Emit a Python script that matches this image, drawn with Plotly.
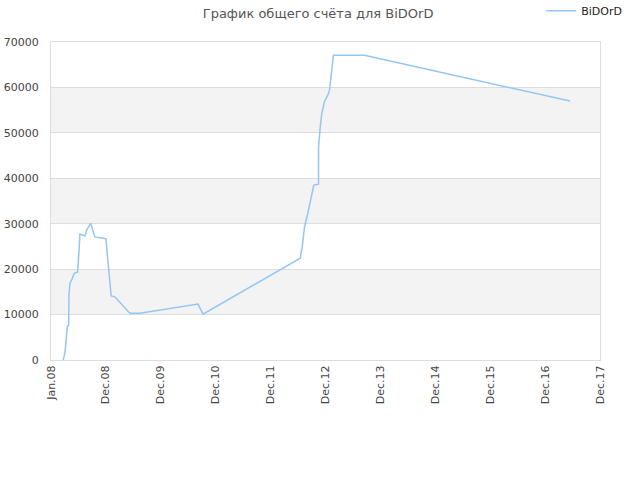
import plotly.graph_objects as go

# x is measured in tick steps: 0 = Jan.08, 1 = Dec.08, 2 = Dec.09, ...
tick_labels = ["Jan.08", "Dec.08", "Dec.09", "Dec.10", "Dec.11", "Dec.12",
               "Dec.13", "Dec.14", "Dec.15", "Dec.16", "Dec.17"]

step = [0.224, 0.255, 0.273, 0.296, 0.322, 0.327, 0.345, 0.376, 0.424, 0.485,
        0.509, 0.527, 0.618, 0.649, 0.722, 0.800, 1.000, 1.042, 1.096, 1.164,
        1.436, 1.618, 2.678, 2.769, 4.540, 4.576, 4.618, 4.678, 4.740, 4.787,
        4.873, 4.874, 4.904, 4.933, 4.982, 5.042, 5.073, 5.145, 5.709, 9.455]
score = [0, 1800, 4000, 7300, 7700, 14300, 16900, 17600, 19100, 19400,
         23800, 27700, 27300, 28600, 30100, 27100, 26700, 21300, 14100, 13900,
         10300, 10300, 12300, 10100, 22400, 24900, 29300, 32300, 35900, 38500,
         38700, 46900, 51300, 54300, 56900, 58300, 59400, 67100, 67100, 57000]

y_ticks = [0, 10000, 20000, 30000, 40000, 50000, 60000, 70000]
bands = [(10000, 20000), (30000, 40000), (50000, 60000)]

fig = go.Figure()
fig.add_trace(
    go.Scatter(
        x=step,
        y=score,
        mode="lines",
        name="BiDOrD",
        line=dict(color="#94c6f4", width=1.5),
    )
)

shapes = []
for lo, hi in bands:
    shapes.append(dict(type="rect", xref="paper", yref="y", x0=0, x1=1, y0=lo, y1=hi,
                       fillcolor="#f3f3f3", line_width=0, layer="below"))

fig.update_layout(
    title=dict(text="График общего счёта для BiDOrD", x=0.497, y=1 - 13 / 480,
               xanchor="center", yanchor="middle",
               font=dict(size=13, color="#555555")),
    width=640,
    height=480,
    margin=dict(t=42, b=120, l=51, r=40, autoexpand=False),
    plot_bgcolor="white",
    paper_bgcolor="white",
    font=dict(family="DejaVu Sans", size=11, color="#444444"),
    shapes=shapes,
    showlegend=True,
    legend=dict(x=0.893, y=1.098, xanchor="left", yanchor="middle",
                bgcolor="rgba(0,0,0,0)", itemwidth=30,
                font=dict(size=11, color="#222222")),
    xaxis=dict(
        range=[0, 10],
        tickvals=list(range(len(tick_labels))),
        ticktext=tick_labels,
        tickangle=-90,
        showgrid=False,
        zeroline=False,
        showline=True,
        linecolor="#dddddd",
        mirror=True,
        ticks="",
        automargin=False,
    ),
    yaxis=dict(
        range=[0, 70000],
        tickvals=y_ticks,
        tickformat="d",
        gridcolor="#dddddd",
        zeroline=False,
        showline=True,
        linecolor="#dddddd",
        mirror=True,
        ticks="",
        ticklabelstandoff=9,
        automargin=False,
    ),
)

# drop the browser's default body margin so the figure sits at the page corner
fig.write_html(
    "out.html",
    config={"displayModeBar": False},
    post_script="document.body.style.margin = '0';",
)
